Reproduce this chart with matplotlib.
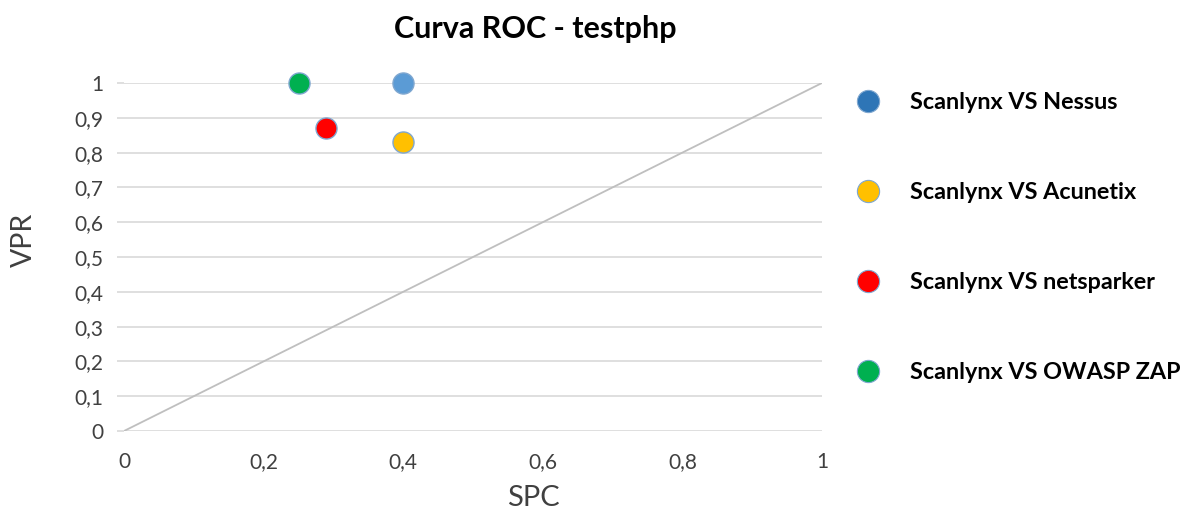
import matplotlib.pyplot as plt
from matplotlib.lines import Line2D

plt.rcParams['font.family'] = ['Lato', 'DejaVu Sans']

# data
labels = ['Scanlynx VS Nessus', 'Scanlynx VS Acunetix',
          'Scanlynx VS netsparker', 'Scanlynx VS OWASP ZAP']
spc = [0.40, 0.40, 0.29, 0.25]
vpr = [1.00, 0.83, 0.87, 1.00]
point_colors = ['#5B9BD5', '#FFC000', '#FF0000', '#00B050']
legend_colors = ['#2E75B6', '#FFC000', '#FF0000', '#00B050']
ticks = [0, 0.1, 0.2, 0.3, 0.4, 0.5, 0.6, 0.7, 0.8, 0.9, 1]
xticks = [0, 0.2, 0.4, 0.6, 0.8, 1]


def fmt(t):
    # comma decimal, like the original
    if t in (0, 1):
        return str(int(t))
    return str(t).replace('.', ',')


fig = plt.figure(figsize=(11.97, 5.12), dpi=100)
ax = fig.add_axes([0.1036, 0.1582, 0.5831, 0.6797])

# diagonal reference
ax.plot([0, 1], [0, 1], color='#BFBFBF', lw=1.3, zorder=2)

for x, y, c in zip(spc, vpr, point_colors):
    ax.scatter(x, y, s=230, color=c, edgecolors='#7FA7D0', linewidths=1.0,
               zorder=4, clip_on=False)

ax.set_xlim(0, 1)
ax.set_ylim(0, 1)
ax.set_yticks(ticks)
ax.set_yticklabels([fmt(t) for t in ticks])
ax.set_xticks(xticks)
ax.set_xticklabels([fmt(t) for t in xticks])

ax.grid(axis='y', color='#D9D9D9', lw=1.2, zorder=1)
for s in ax.spines.values():
    s.set_visible(False)
ax.tick_params(axis='y', length=5, color='#D9D9D9', width=1.2, labelsize=15, pad=10,
               labelcolor='#404040')
ax.tick_params(axis='x', length=0, labelsize=15, pad=15, labelcolor='#404040')

ax.set_xlabel('SPC', fontsize=21, color='#404040')
ax.xaxis.set_label_coords(0.587, -0.155)
ax.set_ylabel('VPR', fontsize=20.5, color='#404040')
ax.yaxis.set_label_coords(-0.125, 0.55)
fig.suptitle('Curva ROC - testphp', x=0.447, y=0.943, va='center',
             fontsize=22, fontweight='bold')

handles = [Line2D([], [], marker='o', ls='', markersize=16, markerfacecolor=c,
                  markeredgecolor='#7FA7D0', markeredgewidth=0.8) for c in legend_colors]
leg = fig.legend(handles, labels, loc='upper left', bbox_to_anchor=(0.698, 0.861),
                 frameon=False, labelspacing=2.95, handlelength=1.0, handletextpad=1.29,
                 prop={'weight': 'bold', 'size': 16.8})

fig.savefig('out.png', dpi=100)
